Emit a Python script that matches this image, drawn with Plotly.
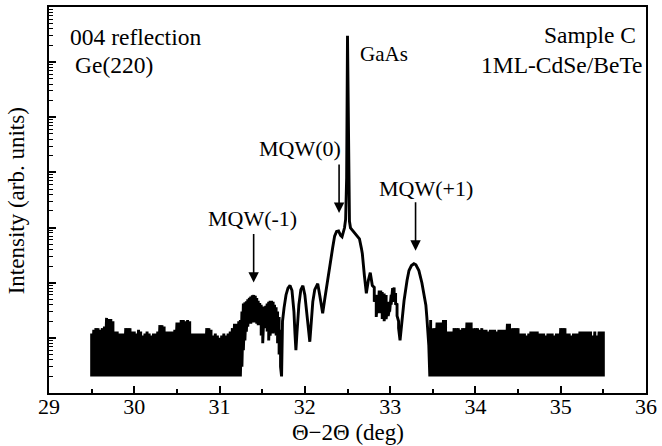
import plotly.graph_objects as go

# ---------------- data ----------------
FLOOR = 2  # detector floor of the counting noise

NOISE_L_X = [29.500, 29.525, 29.550, 29.575, 29.600, 29.625, 29.650, 29.675, 29.700, 29.725,
             29.750, 29.775, 29.800, 29.825, 29.850, 29.875, 29.900, 29.925, 29.950, 29.975,
             30.000, 30.025, 30.050, 30.075, 30.100, 30.125, 30.150, 30.175, 30.200, 30.225,
             30.250, 30.275, 30.300, 30.325, 30.350, 30.375, 30.400, 30.425, 30.450, 30.475,
             30.500, 30.525, 30.550, 30.575, 30.600, 30.625, 30.650, 30.675, 30.700, 30.725,
             30.750, 30.775, 30.800, 30.825, 30.850, 30.875, 30.900, 30.925, 30.950, 30.975,
             31.000, 31.025, 31.050, 31.075, 31.100, 31.125, 31.150, 31.175, 31.200, 31.225]
NOISE_L_HI = [12, 14, 15, 15, 14, 15, 16, 23, 22, 22,
              20, 13, 13, 12, 12, 12, 15, 15, 15, 13,
              13, 12, 14, 13, 11, 12, 13, 12, 11, 12,
              12, 13, 17, 17, 16, 13, 13, 13, 13, 14,
              19, 19, 21, 21, 20, 21, 20, 12, 12, 12,
              12, 12, 12, 12, 15, 15, 14, 11, 12, 11,
              10, 11, 12, 11, 12, 13, 15, 18, 18, 20]

BAND_A_X = [31.244, 31.262, 31.279, 31.297, 31.314, 31.331, 31.349, 31.366, 31.384, 31.401,
            31.419, 31.436, 31.453, 31.471, 31.488, 31.506, 31.523, 31.541, 31.558, 31.576,
            31.593, 31.610, 31.628, 31.645, 31.663, 31.680, 31.698, 31.715]
BAND_A_HI = [21, 30, 42, 44, 46, 50, 53, 56, 59, 60,
             58, 53, 47, 43, 40, 37, 36, 38, 42, 45,
             47, 47, 45, 40, 36, 30, 24, 14]
BAND_A_LO = [2, 3, 6, 9, 13, 16, 18, 18, 20, 19,
             19, 18, 17, 17, 11, 8, 15, 16, 13, 9,
             11, 14, 12, 15, 11, 8, 5, 3]

LINE_1_X = [31.727, 31.738, 31.756, 31.779, 31.802, 31.826, 31.849, 31.872, 31.884, 31.895,
            31.907, 31.930, 31.953, 31.977, 32.000, 32.023, 32.047, 32.058, 32.070, 32.093,
            32.116, 32.140, 32.151, 32.174, 32.192, 32.209, 32.233, 32.267, 32.302, 32.326,
            32.349, 32.372, 32.395, 32.419, 32.436, 32.453, 32.465, 32.478, 32.490, 32.500,
            32.511, 32.523, 32.535, 32.558, 32.581, 32.616, 32.640, 32.663, 32.674, 32.698,
            32.721, 32.744, 32.767, 32.791]
LINE_1_Y = [2, 20, 35, 60, 80, 89, 72, 30, 12, 6,
            12, 40, 75, 88, 60, 30, 14, 8.5, 15, 45,
            75, 92, 96, 60, 40, 28, 50, 115, 280, 430,
            700, 850, 870, 720, 680, 850, 990, 1400, 8000, 3000000,
            8000, 1300, 990, 900, 810, 700, 625, 420, 335, 135,
            64, 109, 152, 89]

BAND_B_X = [32.814, 32.837, 32.855, 32.872, 32.890, 32.907, 32.930, 32.953, 32.977, 32.994,
            33.012, 33.029, 33.047, 33.064, 33.081, 33.099]
BAND_B_HI = [82, 60, 55, 72, 72, 68, 64, 60, 45, 35,
             60, 80, 82, 65, 42, 20]
BAND_B_LO = [45, 24, 28, 30, 28, 22, 20, 22, 25, 30,
             40, 45, 50, 40, 25, 15]

LINE_2_X = [33.116, 33.140, 33.163, 33.198, 33.221, 33.250, 33.279, 33.302, 33.337, 33.372,
            33.395, 33.419, 33.430, 33.442, 33.453, 33.465]
LINE_2_Y = [9, 20, 47, 110, 166, 205, 221, 212, 166, 100,
            64, 39, 24, 14, 7.4, 2]

NOISE_R_X = [33.475, 33.500, 33.525, 33.550, 33.575, 33.600, 33.625, 33.650, 33.675, 33.700,
             33.725, 33.750, 33.775, 33.800, 33.825, 33.850, 33.875, 33.900, 33.925, 33.950,
             33.975, 34.000, 34.025, 34.050, 34.075, 34.100, 34.125, 34.150, 34.175, 34.200,
             34.225, 34.250, 34.275, 34.300, 34.325, 34.350, 34.375, 34.400, 34.425, 34.450,
             34.475, 34.500, 34.525, 34.550, 34.575, 34.600, 34.625, 34.650, 34.675, 34.700,
             34.725, 34.750, 34.775, 34.800, 34.825, 34.850, 34.875, 34.900, 34.925, 34.950,
             34.975, 35.000, 35.025, 35.050, 35.075, 35.100, 35.125, 35.150, 35.175, 35.200,
             35.225, 35.250, 35.275, 35.300, 35.325, 35.350, 35.375, 35.400, 35.425, 35.450,
             35.475, 35.500]
NOISE_R_HI = [21, 15, 15, 19, 19, 19, 21, 21, 13, 13,
              13, 15, 15, 15, 14, 15, 15, 19, 19, 19,
              15, 15, 15, 14, 15, 14, 14, 13, 14, 14,
              14, 13, 14, 14, 14, 14, 18, 18, 15, 15,
              15, 15, 12, 12, 12, 11, 12, 13, 13, 13,
              13, 12, 12, 12, 11, 12, 12, 12, 11, 12,
              12, 15, 15, 15, 12, 12, 11, 12, 12, 12,
              13, 13, 13, 13, 13, 13, 11, 13, 11, 13,
              13, 13]

X_TICKS = [29, 30, 31, 32, 33, 34, 35, 36]
X_TICK_TEXT = ["29", "30", "31", "32", "33", "34", "35", "36"]
X_MINOR = [29.5, 30.5, 31.5, 32.5, 33.5, 34.5, 35.5]
Y_DECADES = [1, 10, 100, 1e3, 1e4, 1e5, 1e6, 1e7]
Y_DIGITS = [2, 3, 4, 5, 6, 7, 8, 9]


# ---------------- build the scan path ----------------
def band(xs, his, los):
    px, py = [], []
    for x, h, l in zip(xs, his, los):
        px += [x, x]
        py += [h, l]
    return px, py


path_x, path_y = [], []
bx, by = band(NOISE_L_X, NOISE_L_HI, [FLOOR] * len(NOISE_L_X))
path_x += bx; path_y += by
bx, by = band(BAND_A_X, BAND_A_HI, BAND_A_LO)
path_x += bx; path_y += by
path_x += LINE_1_X; path_y += LINE_1_Y
bx, by = band(BAND_B_X, BAND_B_HI, BAND_B_LO)
path_x += bx; path_y += by
path_x += LINE_2_X; path_y += LINE_2_Y
bx, by = band(NOISE_R_X, NOISE_R_HI, [FLOOR] * len(NOISE_R_X))
path_x += bx; path_y += by

FONT = "Liberation Serif"

fig = go.Figure()
fig.add_trace(go.Scatter(x=path_x, y=path_y, mode="lines",
                         line=dict(color="black", width=2.9), hoverinfo="skip"))

minor_y = [d * k for d in Y_DECADES[:-1] for k in Y_DIGITS]

fig.update_layout(
    width=662, height=446,
    margin=dict(l=49, r=12, t=5, b=53),
    paper_bgcolor="white", plot_bgcolor="white",
    showlegend=False,
    font=dict(family=FONT, size=22, color="black"),
)
fig.update_xaxes(
    range=[29, 36], tickmode="array", tickvals=X_TICKS, ticktext=X_TICK_TEXT,
    ticks="inside", ticklen=7, tickwidth=1.5, tickcolor="black",
    tickfont=dict(family=FONT, size=22, color="black"),
    ticklabelstandoff=-7,
    showline=True, linewidth=2, linecolor="black", mirror=True,
    showgrid=False, zeroline=False,
    minor=dict(tickmode="array", tickvals=X_MINOR, ticks="inside", ticklen=4,
               tickwidth=1.5, tickcolor="black", showgrid=False),
)
fig.update_yaxes(
    type="log", range=[0, 7], tickmode="array", tickvals=Y_DECADES,
    showticklabels=False,
    ticks="inside", ticklen=7, tickwidth=1.5, tickcolor="black",
    showline=True, linewidth=2, linecolor="black", mirror=True,
    showgrid=False, zeroline=False,
    minor=dict(tickmode="array", tickvals=minor_y, ticks="inside", ticklen=4,
               tickwidth=1.2, tickcolor="black", showgrid=False),
)

# ---------------- text labels ----------------
texts = [
    dict(text="004 reflection", x=0.0316, y=0.923, size=23.5),
    dict(text="Ge(220)", x=0.040, y=0.851, size=23.5),
    dict(text="Sample C", x=0.8253, y=0.928, size=23.5),
    dict(text="1ML-CdSe/BeTe", x=0.7205, y=0.851, size=23.5),
    dict(text="GaAs", x=0.5175, y=0.879, size=21),
    dict(text="MQW(-1)", x=0.263, y=0.451, size=22),
    dict(text="MQW(0)", x=0.348, y=0.634, size=22),
    dict(text="MQW(+1)", x=0.549, y=0.531, size=22),
]
for t in texts:
    fig.add_annotation(xref="paper", yref="paper", showarrow=False,
                       xanchor="left", yanchor="middle",
                       text=t["text"], x=t["x"], y=t["y"],
                       font=dict(family=FONT, size=t["size"], color="black"))

# arrows (tip positions in paper coords, tail offset in px)
arrows = [(0.3428, 0.2861, -50), (0.4859, 0.4665, -50), (0.6140, 0.3686, -50)]
for ax_, ay_, off in arrows:
    fig.add_annotation(xref="paper", yref="paper", x=ax_, y=ay_, ax=0, ay=off,
                       text="", showarrow=True, arrowhead=2, arrowsize=1.3,
                       arrowwidth=1.6, arrowcolor="black")

# axis titles
fig.add_annotation(xref="paper", yref="paper", x=0.5, y=-0.1018, showarrow=False,
                   text="\u0398\u22122\u0398 (deg)", xanchor="center", yanchor="middle",
                   font=dict(family=FONT, size=23, color="black"))
fig.add_annotation(xref="paper", yref="paper", x=-0.055, y=0.497, showarrow=False,
                   text="Intensity (arb. units)", textangle=-90,
                   xanchor="center", yanchor="middle",
                   font=dict(family=FONT, size=23, color="black"))

fig.write_html("out.html", config={"displayModeBar": False},
               post_script="document.body.style.margin='0';document.body.style.overflow='hidden';")
